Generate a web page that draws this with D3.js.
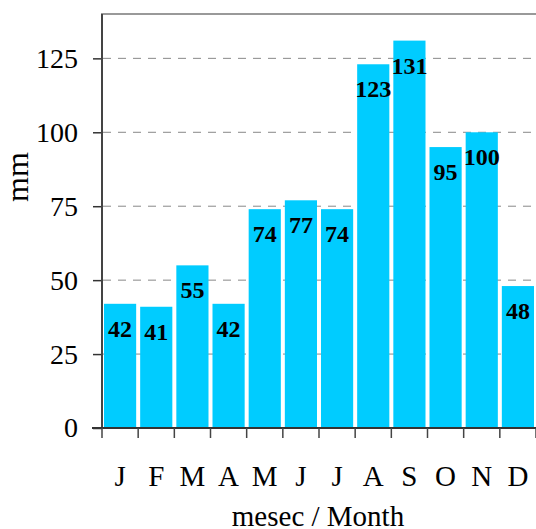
<!DOCTYPE html>
<html>
<head>
<meta charset="utf-8">
<script src="https://cdn.jsdelivr.net/npm/d3@7"></script>
<style>
body{margin:0;background:#fff;overflow:hidden}
svg text{font-family:"Liberation Serif","Times New Roman",serif}
</style>
</head>
<body>
<script>
var width=536,
	height=529;

var months=["J","F","M","A","M","J","J","A","S","O","N","D"],
	rain=[42,41,55,42,74,77,74,123,131,95,100,48],
	yTicks=[0,25,50,75,100,125];

var svg=d3.select("body").append("svg").attr("width",width).attr("height",height)

var x=d3.scaleBand().domain(d3.range(months.length)).range([102,536]).padding(0),
	y=d3.scaleLinear().domain([0,140]).range([428,14]);

// grid behind the bars
svg.append("g").selectAll("line").data(yTicks.filter(d=>d>0)).enter().append("line")
	.attr("x1",103).attr("x2",width)
	.attr("y1",d=>y(d)).attr("y2",d=>y(d))
	.attr("stroke","#888").attr("stroke-width",1).attr("stroke-dasharray","8,7")

// bars
var inset=2
svg.append("g").selectAll("rect").data(rain).enter().append("rect")
	.attr("x",(d,i)=>x(i)+inset)
	.attr("width",x.bandwidth()-inset*2)
	.attr("y",d=>y(d))
	.attr("height",d=>y(0)-y(d))
	.attr("fill","#00ccff")

svg.append("g").selectAll("text").data(rain).enter().append("text")
	.attr("x",(d,i)=>x(i)+x.bandwidth()/2)
	.attr("y",d=>y(d)+33)
	.attr("text-anchor","middle")
	.attr("font-size",24).attr("font-weight","bold")
	.text(d=>d)

// frame top
svg.append("line").attr("x1",101).attr("x2",width).attr("y1",y(140)).attr("y2",y(140))
	.attr("stroke","#999").attr("stroke-width",2)

// y axis
var ya=svg.append("g").attr("transform","translate(102,0)")
	.call(d3.axisLeft(y).tickValues(yTicks).tickSize(9).tickPadding(15))
ya.attr("font-family",null)
ya.select(".domain").remove()
ya.selectAll("line").attr("stroke","#333").attr("stroke-width",1.5)
ya.selectAll("text").attr("font-size",28).attr("fill","#000")
svg.append("line").attr("x1",102).attr("x2",102).attr("y1",y(140)).attr("y2",y(0))
	.attr("stroke","#444").attr("stroke-width",2)

// x axis
svg.append("line").attr("x1",92).attr("x2",width).attr("y1",y(0)).attr("y2",y(0))
	.attr("stroke","#333").attr("stroke-width",2)
svg.append("g").selectAll("line").data(d3.range(months.length+1)).enter().append("line")
	.attr("x1",d=>x(d)===undefined?x.range()[1]:x(d))
	.attr("x2",d=>x(d)===undefined?x.range()[1]:x(d))
	.attr("y1",y(0)).attr("y2",y(0)+10)
	.attr("stroke","#444").attr("stroke-width",1.5)
svg.append("g").selectAll("text").data(months).enter().append("text")
	.attr("x",(d,i)=>x(i)+x.bandwidth()/2)
	.attr("y",486)
	.attr("text-anchor","middle")
	.attr("font-size",29)
	.text(d=>d)

// titles
svg.append("text").attr("x",318).attr("y",526).attr("text-anchor","middle")
	.attr("font-size",29).text("mesec / Month")
svg.append("text").attr("transform","translate(28,177) rotate(-90)").attr("text-anchor","middle")
	.attr("font-size",32).text("mm")
</script>
</body>
</html>
